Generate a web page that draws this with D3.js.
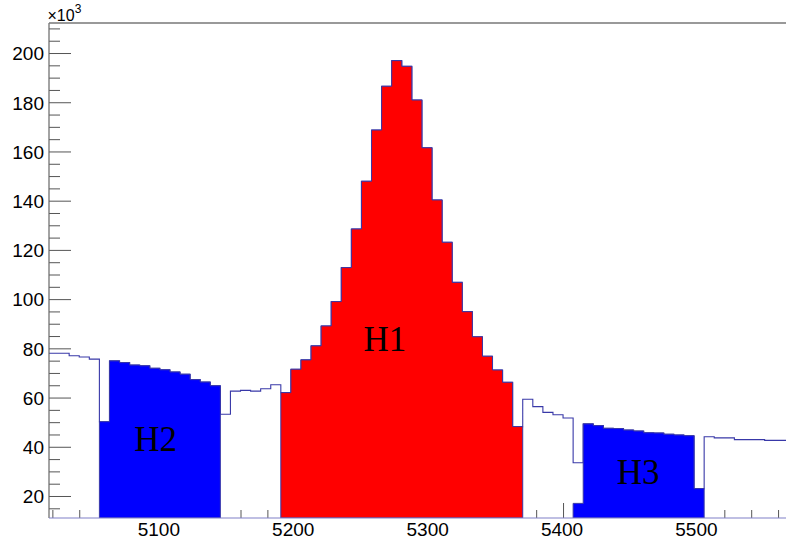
<!DOCTYPE html>
<html>
<head>
<meta charset="utf-8">
<script src="https://cdn.jsdelivr.net/npm/d3@7"></script>
<style>
  html, body { margin: 0; padding: 0; background: #fff; }
  svg { display: block; }
</style>
</head>
<body>
<script>
// ---- data (counts in units of 10^3) ----
const binStart = 5017.5;   // left edge of first visible bin
const binWidth = 7.5;
const mainCounts = [
  78.0, 78.0, 77.0, 76.5, 75.6, 50.2, 74.9, 74.2, 73.2, 72.9,
  71.9, 71.3, 70.4, 69.5, 67.3, 66.3, 64.8, 53.2, 62.6, 62.9,
  62.6, 63.6, 65.2, 62.0, 71.5, 75.3, 81.0, 89.1, 99.0, 112.8,
  128.5, 147.9, 168.7, 186.5, 196.9, 194.6, 180.9, 161.5, 140.3, 123.1,
  106.8, 94.9, 84.7, 76.8, 71.2, 66.2, 48.2, 59.3, 56.3, 54.0,
  53.0, 51.7, 33.5, 49.3, 48.6, 47.5, 47.4, 46.8, 46.4, 45.7,
  45.6, 45.1, 44.8, 44.5, 23.0, 44.1, 43.6, 43.6, 42.9, 42.9,
  42.9, 42.6, 42.6, 42.6
];
// sub-histograms: first bin index and values
const h1First = 23;
const h1Values = [62.0, 71.5, 75.3, 81.0, 89.1, 99.0, 112.8, 128.5, 147.9, 168.7,
                  186.5, 196.9, 194.6, 180.9, 161.5, 140.3, 123.1, 106.8, 94.9, 84.7,
                  76.8, 71.2, 66.2, 48.2];
const h2First = 5;
const h2Values = [50.2, 74.9, 74.2, 73.2, 72.9, 71.9, 71.3, 70.4, 69.5, 67.3, 66.3, 64.8];
const h3First = 52;
const h3Values = [17.0, 49.3, 48.6, 47.5, 47.4, 46.8, 46.4, 45.7, 45.6, 45.1, 44.8, 44.5, 23.0];

const xMajorTicks = [5100, 5200, 5300, 5400, 5500];
const yMajorTicks = [20, 40, 60, 80, 100, 120, 140, 160, 180, 200];
const xDomain = [5017.5, 5565.9];
const yDomain = [11.06, 212.2];

const labels = [
  {text: "H1", x: 5251.5, y: 78.9},
  {text: "H2", x: 5081.0, y: 38.3},
  {text: "H3", x: 5440.0, y: 24.75}
];

// ---- layout ----
const W = 786, H = 546;
const L = 49, R = 786, T = 23, B = 518;

const svg = d3.select("body").append("svg").attr("width", W).attr("height", H);

const x = d3.scaleLinear().domain(xDomain).range([L, R]);
const y = d3.scaleLinear().domain(yDomain).range([B, T]);

svg.append("defs").append("clipPath").attr("id", "plotclip")
  .append("rect").attr("x", L).attr("y", T).attr("width", R - L).attr("height", B - T);

// ---- axes ----
const tickColor = "#555";
const fontSans = "'Liberation Sans', Arial, Helvetica, sans-serif";

// y minor ticks
const yMinor = d3.range(15, 212, 5).filter(v => v % 20 !== 0);
const yMinorG = svg.append("g").attr("transform", `translate(${L},0)`)
  .call(d3.axisLeft(y).tickValues(yMinor).tickSize(-11).tickSizeOuter(0).tickFormat(""));
yMinorG.select(".domain").remove();
yMinorG.selectAll("line").attr("stroke", tickColor);

const yMajorG = svg.append("g").attr("transform", `translate(${L},0)`)
  .call(d3.axisLeft(y).tickValues(yMajorTicks).tickSize(-22).tickSizeOuter(0).tickPadding(5).tickFormat(d3.format("d")));
yMajorG.select(".domain").remove();
yMajorG.selectAll("line").attr("stroke", tickColor);
yMajorG.selectAll("text").attr("font-family", fontSans).attr("font-size", 19).attr("fill", "#000")
  .attr("dy", "0.36em");

// x minor ticks
const xMinor = d3.range(5020, 5566, 20).filter(v => v % 100 !== 0);
const xMinorG = svg.append("g").attr("transform", `translate(0,${B})`)
  .call(d3.axisBottom(x).tickValues(xMinor).tickSize(-8).tickSizeOuter(0).tickFormat(""));
xMinorG.select(".domain").remove();
xMinorG.selectAll("line").attr("stroke", tickColor);

const xMajorG = svg.append("g").attr("transform", `translate(0,${B})`)
  .call(d3.axisBottom(x).tickValues(xMajorTicks).tickSize(-15).tickSizeOuter(0).tickPadding(5).tickFormat(d3.format("d")));
xMajorG.select(".domain").remove();
xMajorG.selectAll("line").attr("stroke", tickColor);
xMajorG.selectAll("text").attr("font-family", fontSans).attr("font-size", 19).attr("fill", "#000")
  .attr("dx", "-1.5");

// ---- histograms ----
const outline = "#3838a8";
const plot = svg.append("g").attr("clip-path", "url(#plotclip)");

function stepPoints(first, values) {
  const pts = [];
  values.forEach((v, i) => {
    const x0 = binStart + (first + i) * binWidth;
    pts.push([x0, v], [x0 + binWidth, v]);
  });
  return pts;
}

const line = d3.line().x(d => x(d[0])).y(d => y(d[1]));

// main histogram outline
plot.append("path")
  .attr("d", line(stepPoints(0, mainCounts)))
  .attr("fill", "none").attr("stroke", outline).attr("stroke-width", 1.1);

function drawFilled(first, values, color) {
  const pts = stepPoints(first, values);
  const poly = [[pts[0][0], yDomain[0]], ...pts, [pts[pts.length - 1][0], yDomain[0]]];
  plot.append("path")
    .attr("d", line(poly) + "Z")
    .attr("fill", color).attr("stroke", outline).attr("stroke-width", 1);
}
drawFilled(h1First, h1Values, "#ff0000");
drawFilled(h2First, h2Values, "#0000ff");
drawFilled(h3First, h3Values, "#0000ff");

// ---- frame lines ----
svg.append("line").attr("x1", L).attr("x2", L).attr("y1", T).attr("y2", B)
  .attr("stroke", "#666").attr("stroke-width", 1.2);
svg.append("line").attr("x1", L).attr("x2", R).attr("y1", T).attr("y2", T)
  .attr("stroke", "#777").attr("stroke-width", 1.5);
svg.append("line").attr("x1", L).attr("x2", R).attr("y1", B).attr("y2", B)
  .attr("stroke", "#8080c8").attr("stroke-width", 1.2);

// ---- exponent label ----
const ex = svg.append("text").attr("x", 47.5).attr("y", 21)
  .attr("font-family", fontSans).attr("font-size", 16).attr("fill", "#000");
ex.append("tspan").text("\u00d710");
ex.append("tspan").attr("font-size", 12).attr("dy", -8).text("3");

// ---- region labels ----
svg.append("g").selectAll("text").data(labels).join("text")
  .attr("x", d => x(d.x)).attr("y", d => y(d.y))
  .attr("font-family", "'Liberation Serif', 'Times New Roman', serif")
  .attr("font-size", 35).attr("fill", "#000")
  .text(d => d.text);
</script>
</body>
</html>
